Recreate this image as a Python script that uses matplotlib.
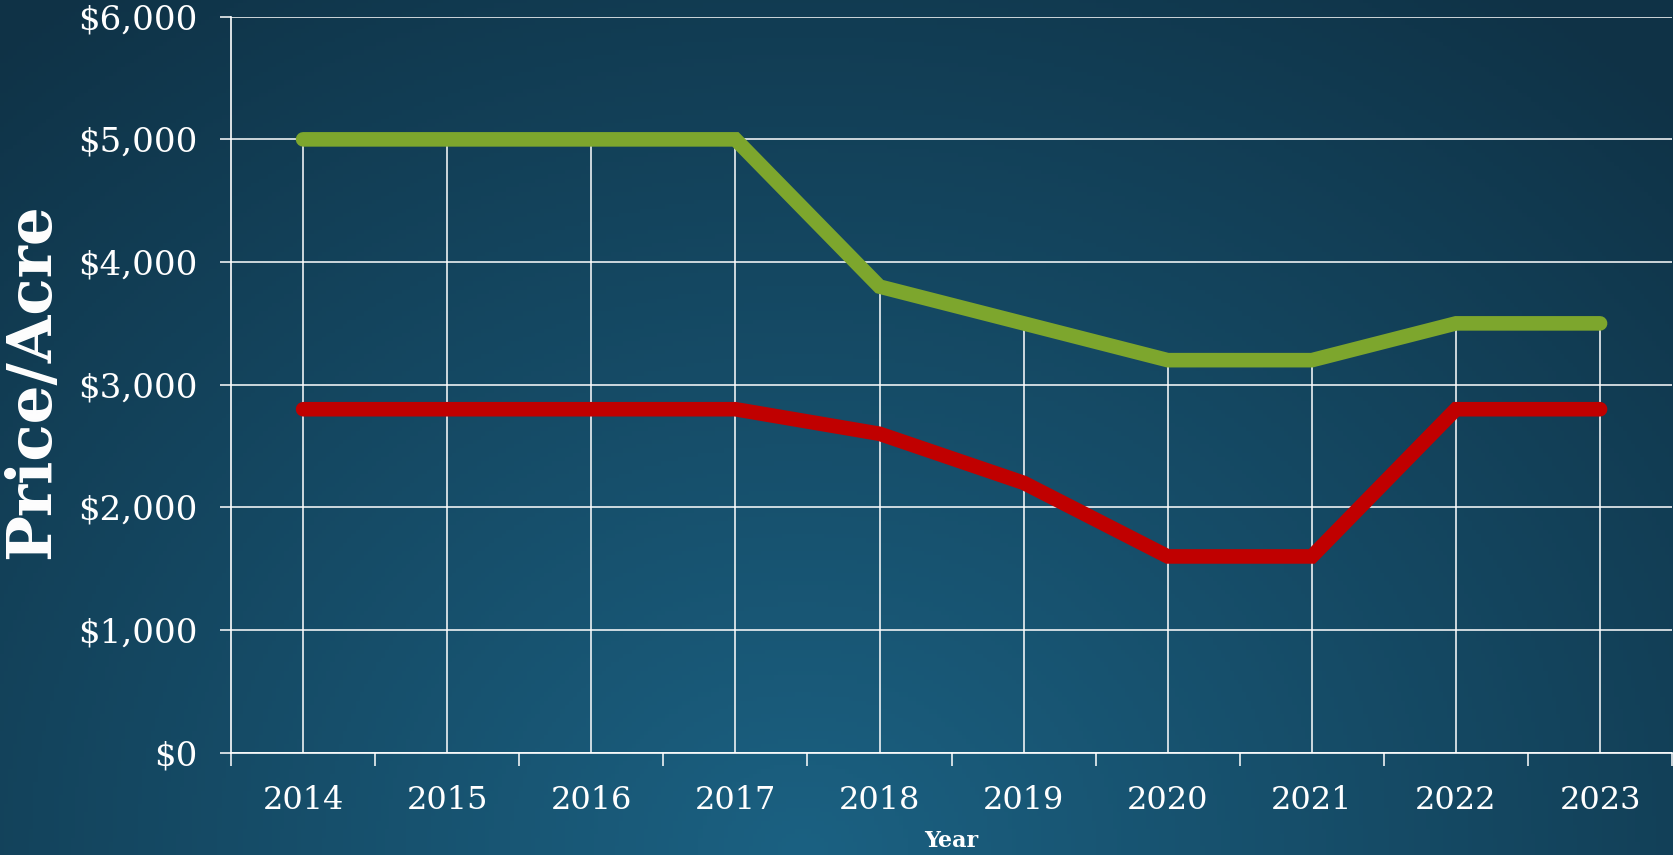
import matplotlib
matplotlib.use("Agg")
from matplotlib import pyplot as plt
import numpy as np

# data
years = ["2014", "2015", "2016", "2017", "2018", "2019", "2020", "2021", "2022", "2023"]
green_price = [5000, 5000, 5000, 5000, 3800, 3500, 3200, 3200, 3500, 3500]
red_price = [2800, 2800, 2800, 2800, 2600, 2200, 1600, 1600, 2800, 2800]
y_ticks = [0, 1000, 2000, 3000, 4000, 5000, 6000]
y_labels = ["$0", "$1,000", "$2,000", "$3,000", "$4,000", "$5,000", "$6,000"]

plt.rcParams['font.family'] = ['DejaVu Serif']

W, H = 1673, 855
fig = plt.figure(figsize=(W / 100, H / 100), dpi=100)

# background gradient (lighter toward bottom middle)
bg = fig.add_axes([0, 0, 1, 1], zorder=-10)
gx, gy = np.meshgrid(np.linspace(0, 1, 400), np.linspace(0, 1, 200))
d = np.sqrt(((gx - 0.48) / 0.75) ** 2 + ((gy - 1.0) / 1.25) ** 2)
d = np.clip(d, 0, 1)
c_in = np.array([27, 97, 130]) / 255
c_out = np.array([15, 50, 70]) / 255
img = c_in[None, None, :] * (1 - d[..., None]) + c_out[None, None, :] * d[..., None]
bg.imshow(img, aspect='auto', extent=[0, 1, 0, 1], origin='upper')
bg.axis('off')

ax = fig.add_axes([231 / W, 1 - 752.7 / H, 1 - 231 / W - 0.0005, (752.7 - 16.7) / H])
ax.patch.set_alpha(0)

x = np.arange(len(years))
ax.set_xlim(-0.5, len(years) - 0.5)
ax.set_ylim(0, 6000)

# horizontal gridlines and drop lines
for s in ['top', 'right']:
    ax.spines[s].set_visible(False)
ax.spines['left'].set_color('white')
ax.spines['bottom'].set_color('white')
ax.spines['left'].set_linewidth(1.2)
ax.spines['bottom'].set_linewidth(1.2)
ax.yaxis.grid(True, color='white', linewidth=1.1)
ax.set_axisbelow(True)
ax.vlines(x, 0, green_price, color='white', linewidth=1.1, zorder=1)

ax.plot(x, green_price, color='#7DA62D', linewidth=10.5, solid_capstyle='round',
        solid_joinstyle='miter', zorder=3)
ax.plot(x, red_price, color='#C00000', linewidth=10.5, solid_capstyle='round',
        solid_joinstyle='miter', zorder=3)

ax.set_xticks(x)
ax.set_xticklabels(years)
ax.set_xticks(np.arange(-0.5, len(years)), minor=True)
ax.tick_params(axis='x', which='major', length=0, pad=23, labelsize=23, labelcolor='white')
ax.tick_params(axis='x', which='minor', length=9, width=1.1, color='white')

ax.set_yticks(y_ticks)
ax.set_yticklabels(y_labels)
ax.tick_params(axis='y', length=8, width=1.1, color='white', pad=16, labelsize=24.5,
               labelcolor='white')

ax.set_xlabel("Year", fontsize=16, fontweight='bold', color='white', va='center')
ax.xaxis.set_label_coords(0.5, -0.12)
ax.set_ylabel("Price/Acre", fontsize=44, fontweight='bold', color='white',
              va='center', ha='center')
ax.yaxis.set_label_coords(-0.138, 0.505)

fig.savefig("out.png", dpi=100)
